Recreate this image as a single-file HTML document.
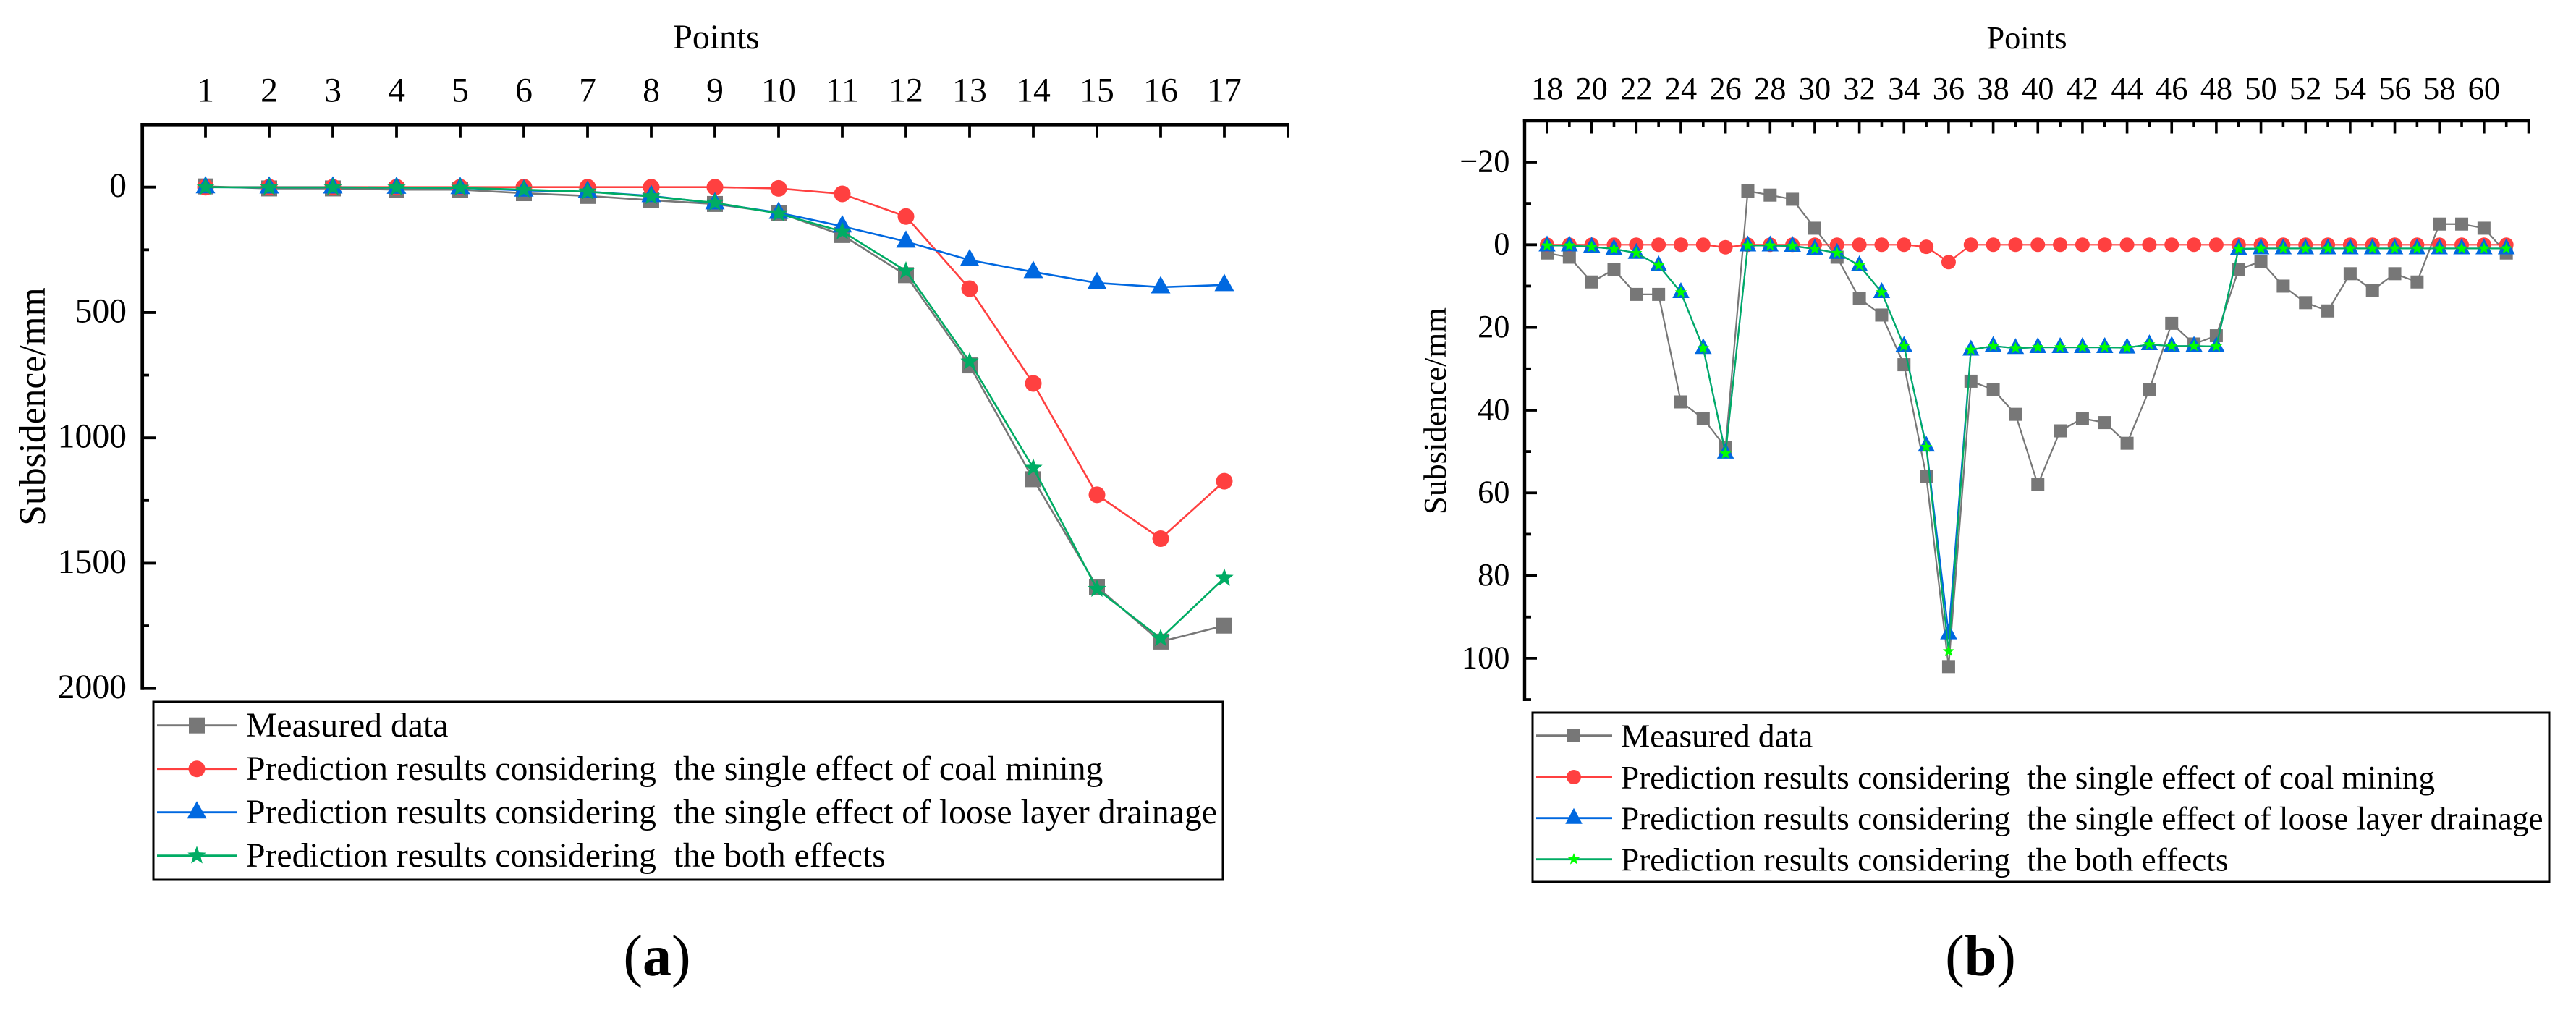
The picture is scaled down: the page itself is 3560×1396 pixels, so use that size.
<!DOCTYPE html>
<html lang="en">
<head>
<meta charset="utf-8">
<title>Subsidence charts</title>
<style>
html,body{margin:0;padding:0;background:#fff;width:3560px;height:1396px;overflow:hidden}
svg{display:block}
text{font-family:"Liberation Serif","Times New Roman",serif;fill:#000;white-space:pre}
</style>
</head>
<body>
<svg id="fig" xmlns="http://www.w3.org/2000/svg" width="3560" height="1396" viewBox="0 0 3560 1396">
  <rect x="0" y="0" width="3560" height="1396" fill="#fff"/>

  <g id="chart-a">
    <text x="990" y="67" font-size="47.7" text-anchor="middle">Points</text>
    <text transform="translate(62,562) rotate(-90)" font-size="51.6" text-anchor="middle">Subsidence/mm</text>
    <rect x="212" y="970" width="1478" height="246" fill="#fff" stroke="#000" stroke-width="3"/>
    <text x="340" y="1018" font-size="47.7">Measured data</text>
    <text x="340" y="1078" font-size="47.7">Prediction results considering  the single effect of coal mining</text>
    <text x="340" y="1138" font-size="47.7">Prediction results considering  the single effect of loose layer drainage</text>
    <text x="340" y="1198" font-size="47.7">Prediction results considering  the both effects</text>
    <text x="908" y="1348" font-size="80" text-anchor="middle">(<tspan font-weight="bold">a</tspan>)</text>
  </g>

  <g id="chart-b">
    <text x="2801" y="67" font-size="44.4" text-anchor="middle">Points</text>
    <text transform="translate(1998,568) rotate(-90)" font-size="44.8" text-anchor="middle">Subsidence/mm</text>
    <rect x="2118" y="985" width="1405" height="234" fill="#fff" stroke="#000" stroke-width="3"/>
    <text x="2240" y="1032.7" font-size="45.3">Measured data</text>
    <text x="2240" y="1090" font-size="45.3">Prediction results considering  the single effect of coal mining</text>
    <text x="2240" y="1146.7" font-size="45.3">Prediction results considering  the single effect of loose layer drainage</text>
    <text x="2240" y="1203.3" font-size="45.3">Prediction results considering  the both effects</text>
    <text x="2737" y="1348" font-size="80" text-anchor="middle">(<tspan font-weight="bold">b</tspan>)</text>
  </g>
</svg>
<script>
// ---------- chart (a) data ----------
const pointsA = [1,2,3,4,5,6,7,8,9,10,11,12,13,14,15,16,17];
const measuredA = [-3,5,5,10,10,24,35,52,67,102,191,351,711,1165,1594,1813,1749];
const coalA = [0,0,0,0,0,0,0,0,0,5,27,117,405,783,1227,1402,1173];
const drainA = [0,1,1,2,3,13,18,35,64,102,156,217,291,338,382,399,390];
const bothA = [0,1,1,2,3,10,18,37,62,105,177,334,696,1120,1603,1800,1559];
const xTickLabelsA = [1,2,3,4,5,6,7,8,9,10,11,12,13,14,15,16,17];
const yMajorA = [0,500,1000,1500,2000];
const yMinorA = [250,750,1250,1750];

// ---------- chart (b) data ----------
const pointsB = [18,19,20,21,22,23,24,25,26,27,28,29,30,31,32,33,34,35,36,37,38,39,40,41,42,43,44,45,46,47,48,49,50,51,52,53,54,55,56,57,58,59,60,61];
const measuredB = [2,3,9,6,12,12,38,42,49,-13,-12,-11,-4,3,13,17,29,56,102,33,35,41,58,45,42,43,48,35,19,24,22,6,4,10,14,16,7,11,7,9,-5,-5,-4,2];
const coalB = [0,0,0,0,0,0,0,0,0.6,0,0,0,0,0,0,0,0,0.5,4.2,0,0,0,0,0,0,0,0,0,0,0,0,0,0,0,0,0,0,0,0,0,0,0,0,0];
const drainB = [0.2,0.2,0.5,1,2,5,11.5,25,50.3,0.2,0.2,0.3,1,2,5,11.5,24.5,48.6,94,25.4,24.5,25,24.8,24.8,24.8,24.8,24.9,24.1,24.5,24.5,24.6,1,0.9,0.9,0.9,0.9,0.9,0.9,0.9,0.9,0.9,0.9,0.9,0.9];
const bothB = [0.2,0.2,0.5,1,2,5,11.5,25,50.5,0.2,0.2,0.3,1,2,5,11.5,24.5,48.9,98.3,25.4,24.5,25,24.8,24.8,24.8,24.8,24.9,24.1,24.5,24.5,24.6,1,0.9,0.9,0.9,0.9,0.9,0.9,0.9,0.9,0.9,0.9,0.9,0.9];
const xMajorB = [18,20,22,24,26,28,30,32,34,36,38,40,42,44,46,48,50,52,54,56,58,60];
const xMinorB = [19,21,23,25,27,29,31,33,35,37,39,41,43,45,47,49,51,53,55,57,59,61];
const yMajorB = [-20,0,20,40,60,80,100];
const yMinorB = [-10,10,30,50,70,90,110];

// ---------- axis functions ----------
function xA(p){return 284+(p-1)*88;}
function yA(v){return 258.7+0.3465*v;}
function xB(p){return 2138+(p-18)*30.83;}
function yB(v){return 338.3+5.716*v;}

const NS='http://www.w3.org/2000/svg';
const GRAY='#777777',RED='#FF4040',BLUE='#0068E0',GREEN='#00AC64',LIME='#00FF00';

function make(parent,tag,attrs){
  const el=document.createElementNS(NS,tag);
  for(const k in attrs){el.setAttribute(k,attrs[k]);}
  parent.appendChild(el);
  return el;
}

function starPoints(cx,cy,R){
  const pts=[];
  for(let i=0;i<10;i++){
    const r=i%2===0?R:R*0.42;
    const a=-Math.PI/2+i*Math.PI/5;
    pts.push((cx+r*Math.cos(a)).toFixed(1)+','+(cy+r*Math.sin(a)).toFixed(1));
  }
  return pts.join(' ');
}

function drawMarker(parent,kind,cx,cy,sz,fill,name){
  let el;
  if(kind==='square'){
    el=make(parent,'rect',{x:cx-sz.square/2,y:cy-sz.square/2,width:sz.square,height:sz.square,fill:fill});
  }else if(kind==='circle'){
    el=make(parent,'circle',{cx:cx,cy:cy,r:sz.circle/2,fill:fill});
  }else if(kind==='triangle'){
    const p=(cx)+','+(cy-sz.triUp)+' '+(cx+sz.triW/2)+','+(cy+sz.triDown)+' '+(cx-sz.triW/2)+','+(cy+sz.triDown);
    el=make(parent,'polygon',{points:p,fill:fill});
  }else{
    el=make(parent,'polygon',{points:starPoints(cx,cy,sz.star),fill:fill});
  }
  
  
  return el;
}

function drawSeries(parent,name,kind,pts,vals,xf,yf,lineColor,markColor,sz,lw){
  const g=make(parent,'g',{});
  
  
  const d=pts.map(function(p,i){return xf(p).toFixed(2)+','+yf(vals[i]).toFixed(2);}).join(' ');
  const line=make(g,'polyline',{points:d,fill:'none',stroke:lineColor,'stroke-width':lw,'stroke-linejoin':'round'});
  
  
  pts.forEach(function(p,i){
    drawMarker(g,kind,xf(p),yf(vals[i]),sz,markColor,name+'-point-'+p);
  });
}

function hLine(parent,x1,x2,y,w,name){
  const el=make(parent,'line',{x1:x1,x2:x2,y1:y,y2:y,stroke:'#000','stroke-width':w});
  
  
}
function vLine(parent,x,y1,y2,w,name){
  const el=make(parent,'line',{x1:x,x2:x,y1:y1,y2:y2,stroke:'#000','stroke-width':w});
  
  
}
function label(parent,x,y,txt,size,anchor,name){
  const el=make(parent,'text',{x:x,y:y,'font-size':size,'text-anchor':anchor});
  el.textContent=txt;
  
  
}
function swatchLine(parent,x1,x2,y,color,w,name){
  const el=make(parent,'line',{x1:x1,x2:x2,y1:y,y2:y,stroke:color,'stroke-width':w});
  
  
}

// ---------- chart a ----------
(function(){
  const root=document.getElementById('chart-a');
  const L=196.7,T=172.3,R=1780,B=yA(2000);
  vLine(root,L,T-2.3,B+2,4.7,'y-axis-line-a');
  hLine(root,L-2.3,R+2,T,4.7,'x-axis-line-a');
  xTickLabelsA.forEach(function(p){
    vLine(root,xA(p),T,190.7,3.8,'x-tick-a-'+p);
    label(root,xA(p),140.7,String(p),47.7,'middle','x-tick-label-a-'+p);
  });
  vLine(root,xA(18),T,190.7,3.8,'x-tick-a-end');
  yMajorA.forEach(function(v){
    hLine(root,L,215,yA(v),3.8,'y-tick-a-'+v);
    label(root,175,yA(v)+13.5,String(v),47.7,'end','y-tick-label-a-'+v);
  });
  yMinorA.forEach(function(v){
    hLine(root,L,206,yA(v),3.8,'y-minor-tick-a-'+v);
  });
  const sz={square:22,circle:23,triW:27,triUp:15.5,triDown:8.5,star:13.4};
  drawSeries(root,'measured-a','square',pointsA,measuredA,xA,yA,GRAY,GRAY,sz,2.6);
  drawSeries(root,'coal-mining-a','circle',pointsA,coalA,xA,yA,RED,RED,sz,2.6);
  drawSeries(root,'loose-layer-drainage-a','triangle',pointsA,drainA,xA,yA,BLUE,BLUE,sz,2.6);
  drawSeries(root,'both-effects-a','star',pointsA,bothA,xA,yA,GREEN,GREEN,sz,2.6);
  const rows=[[1002.7,GRAY,GRAY,'square','measured'],[1062.7,RED,RED,'circle','coal'],[1122.7,BLUE,BLUE,'triangle','drainage'],[1182.7,GREEN,GREEN,'star','both']];
  rows.forEach(function(r){
    swatchLine(root,217,327,r[0],r[1],2.8,'legend-line-'+r[4]+'-a');
    drawMarker(root,r[3],272,r[0],sz,r[2],'legend-marker-'+r[4]+'-a');
  });
})();

// ---------- chart b ----------
(function(){
  const root=document.getElementById('chart-b');
  const L=2107,T=167,R=xB(62),B=yB(110);
  vLine(root,L,T-2.2,B+2,4.4,'y-axis-line-b');
  hLine(root,L-2.2,R+2,T,4.6,'x-axis-line-b');
  xMajorB.forEach(function(p){
    vLine(root,xB(p),T,184.5,3.6,'x-tick-b-'+p);
    label(root,xB(p),137,String(p),44.4,'middle','x-tick-label-b-'+p);
  });
  vLine(root,xB(62),T,184.5,3.6,'x-tick-b-end');
  xMinorB.forEach(function(p){
    vLine(root,xB(p),T,176,3.6,'x-minor-tick-b-'+p);
  });
  yMajorB.forEach(function(v){
    hLine(root,L,2124,yB(v),3.8,'y-tick-b-'+v);
    label(root,2086.5,yB(v)+13.4,String(v).replace('-','\u2212'),44.4,'end','y-tick-label-b-'+v);
  });
  yMinorB.forEach(function(v){
    hLine(root,L,2116,yB(v),3.8,'y-minor-tick-b-'+v);
  });
  const sz={square:18,circle:20,triW:23.5,triUp:14,triDown:8,star:8.6};
  drawSeries(root,'measured-b','square',pointsB,measuredB,xB,yB,GRAY,GRAY,sz,2.2);
  drawSeries(root,'coal-mining-b','circle',pointsB,coalB,xB,yB,RED,RED,sz,2.2);
  drawSeries(root,'loose-layer-drainage-b','triangle',pointsB,drainB,xB,yB,BLUE,BLUE,sz,2.2);
  drawSeries(root,'both-effects-b','star',pointsB,bothB,xB,yB,GREEN,LIME,sz,2.2);
  const rows=[[1016.7,GRAY,GRAY,'square','measured'],[1074,RED,RED,'circle','coal'],[1130.7,BLUE,BLUE,'triangle','drainage'],[1187.7,GREEN,LIME,'star','both']];
  rows.forEach(function(r){
    swatchLine(root,2123,2228,r[0],r[1],2.8,'legend-line-'+r[4]+'-b');
    drawMarker(root,r[3],2175,r[0],sz,r[2],'legend-marker-'+r[4]+'-b');
  });
})();
</script>
</body>
</html>
